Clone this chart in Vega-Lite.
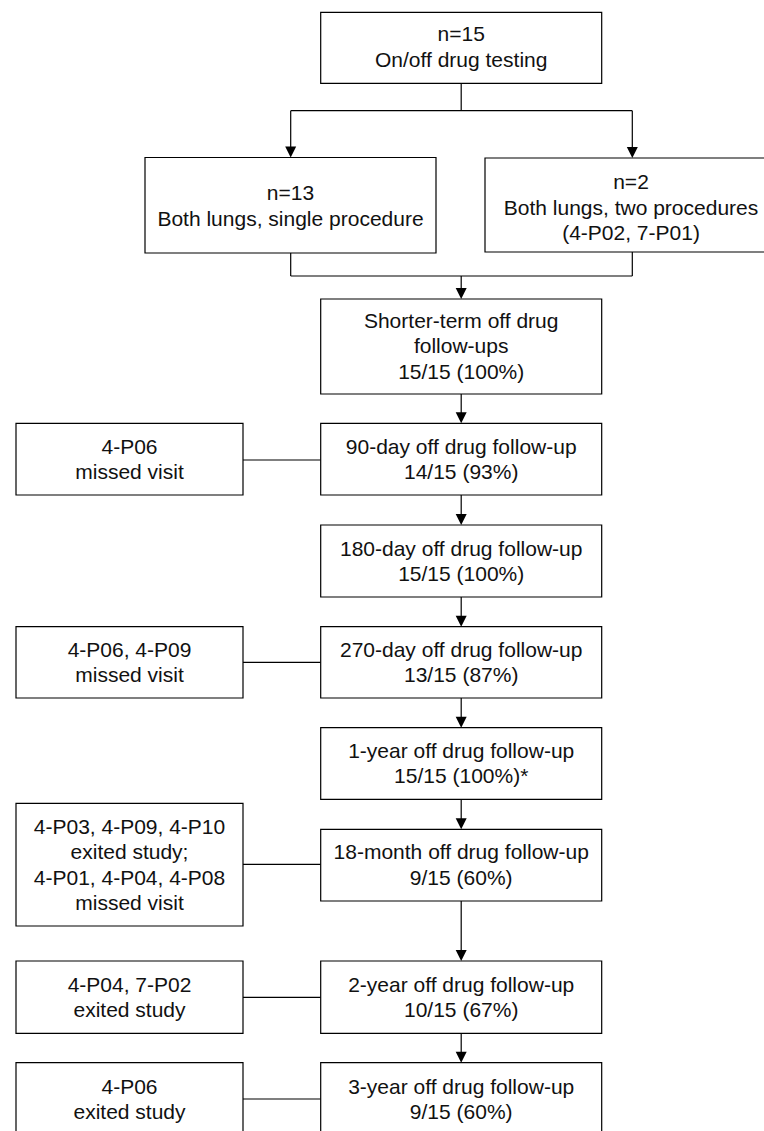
{
  "$schema": "https://vega.github.io/schema/vega-lite/v6.json",
  "width": 764,
  "height": 1131,
  "autosize": {"type": "fit", "contains": "padding"},
  "padding": 0,
  "background": "white",
  "config": {"view": {"stroke": null}},
  "datasets": {
    "boxes": [
      {"id": "top", "x1": 320.7, "x2": 601.7, "y1": 12.3, "y2": 83.3, "cx": 461.2, "ty": 35.3, "label": "n=15\nOn/off drug testing"},
      {"id": "single", "x1": 145, "x2": 436, "y1": 157.5, "y2": 253, "cx": 290.5, "ty": 194.3, "label": "n=13\nBoth lungs, single procedure"},
      {"id": "two", "x1": 485, "x2": 779, "y1": 158, "y2": 252, "cx": 631, "ty": 183, "label": "n=2\nBoth lungs, two procedures\n(4-P02, 7-P01)"},
      {"id": "short", "x1": 320.7, "x2": 601.7, "y1": 299, "y2": 394, "cx": 461.2, "ty": 321.5, "label": "Shorter-term off drug\nfollow-ups\n15/15 (100%)"},
      {"id": "d90", "x1": 320.7, "x2": 601.7, "y1": 423.3, "y2": 495, "cx": 461.2, "ty": 447.8, "label": "90-day off drug follow-up\n14/15 (93%)"},
      {"id": "l90", "x1": 16, "x2": 243, "y1": 423.3, "y2": 495, "cx": 129.5, "ty": 447.8, "label": "4-P06\nmissed visit"},
      {"id": "d180", "x1": 320.7, "x2": 601.7, "y1": 525, "y2": 597, "cx": 461.2, "ty": 549.8, "label": "180-day off drug follow-up\n15/15 (100%)"},
      {"id": "d270", "x1": 320.7, "x2": 601.7, "y1": 626.7, "y2": 698, "cx": 461.2, "ty": 650.8, "label": "270-day off drug follow-up\n13/15 (87%)"},
      {"id": "l270", "x1": 16, "x2": 243, "y1": 626.7, "y2": 698, "cx": 129.5, "ty": 650.8, "label": "4-P06, 4-P09\nmissed visit"},
      {"id": "y1", "x1": 320.7, "x2": 601.7, "y1": 727.7, "y2": 799.3, "cx": 461.2, "ty": 751.8, "label": "1-year off drug follow-up\n15/15 (100%)*"},
      {"id": "m18", "x1": 320.7, "x2": 601.7, "y1": 829.3, "y2": 901, "cx": 461.2, "ty": 853.3, "label": "18-month off drug follow-up\n9/15 (60%)"},
      {"id": "l18", "x1": 16, "x2": 243, "y1": 803.3, "y2": 926, "cx": 129.5, "ty": 827.8, "label": "4-P03, 4-P09, 4-P10\nexited study;\n4-P01, 4-P04, 4-P08\nmissed visit"},
      {"id": "y2", "x1": 320.7, "x2": 601.7, "y1": 961, "y2": 1033.3, "cx": 461.2, "ty": 985.8, "label": "2-year off drug follow-up\n10/15 (67%)"},
      {"id": "l2y", "x1": 16, "x2": 243, "y1": 961, "y2": 1033.3, "cx": 129.5, "ty": 985.8, "label": "4-P04, 7-P02\nexited study"},
      {"id": "y3", "x1": 320.7, "x2": 601.7, "y1": 1062.7, "y2": 1135, "cx": 461.2, "ty": 1087.5, "label": "3-year off drug follow-up\n9/15 (60%)"},
      {"id": "l3y", "x1": 16, "x2": 243, "y1": 1062.7, "y2": 1135, "cx": 129.5, "ty": 1087.5, "label": "4-P06\nexited study"}
    ],
    "lines": [
      {"xa": 461.2, "ya": 83.3, "xb": 461.2, "yb": 110.7},
      {"xa": 290.7, "ya": 110.7, "xb": 632.3, "yb": 110.7},
      {"xa": 290.7, "ya": 110.7, "xb": 290.7, "yb": 150},
      {"xa": 632.3, "ya": 110.7, "xb": 632.3, "yb": 150},
      {"xa": 290.7, "ya": 253, "xb": 290.7, "yb": 276},
      {"xa": 632.3, "ya": 252, "xb": 632.3, "yb": 276},
      {"xa": 290.7, "ya": 276, "xb": 632.3, "yb": 276},
      {"xa": 461.2, "ya": 276, "xb": 461.2, "yb": 292},
      {"xa": 461.2, "ya": 394, "xb": 461.2, "yb": 416},
      {"xa": 243, "ya": 460, "xb": 320.7, "yb": 460},
      {"xa": 461.2, "ya": 495, "xb": 461.2, "yb": 518},
      {"xa": 461.2, "ya": 597, "xb": 461.2, "yb": 620},
      {"xa": 243, "ya": 662.3, "xb": 320.7, "yb": 662.3},
      {"xa": 461.2, "ya": 698, "xb": 461.2, "yb": 720},
      {"xa": 461.2, "ya": 799.3, "xb": 461.2, "yb": 822},
      {"xa": 243, "ya": 864.3, "xb": 320.7, "yb": 864.3},
      {"xa": 461.2, "ya": 901, "xb": 461.2, "yb": 954},
      {"xa": 243, "ya": 997.3, "xb": 320.7, "yb": 997.3},
      {"xa": 461.2, "ya": 1033.3, "xb": 461.2, "yb": 1056},
      {"xa": 243, "ya": 1099, "xb": 320.7, "yb": 1099}
    ],
    "arrows": [
      {"x": 290.7, "y": 157.5},
      {"x": 632.3, "y": 158},
      {"x": 461.2, "y": 299},
      {"x": 461.2, "y": 423.3},
      {"x": 461.2, "y": 525},
      {"x": 461.2, "y": 626.7},
      {"x": 461.2, "y": 727.7},
      {"x": 461.2, "y": 829.3},
      {"x": 461.2, "y": 961},
      {"x": 461.2, "y": 1062.7}
    ]
  },
  "layer": [
    {
      "data": {"name": "lines"},
      "mark": {"type": "rule", "color": "#000000", "strokeWidth": 1.2},
      "encoding": {
        "x": {"field": "xa", "type": "quantitative", "axis": null, "scale": {"domain": [0, 764], "nice": false, "zero": false}},
        "x2": {"field": "xb"},
        "y": {"field": "ya", "type": "quantitative", "axis": null, "scale": {"domain": [0, 1131], "nice": false, "zero": false, "reverse": true}},
        "y2": {"field": "yb"}
      }
    },
    {
      "data": {"name": "boxes"},
      "mark": {"type": "rect", "fill": "white", "stroke": "#000000", "strokeWidth": 1.2, "clip": true},
      "encoding": {
        "x": {"field": "x1", "type": "quantitative", "axis": null, "scale": {"domain": [0, 764], "nice": false, "zero": false}},
        "x2": {"field": "x2"},
        "y": {"field": "y1", "type": "quantitative", "axis": null, "scale": {"domain": [0, 1131], "nice": false, "zero": false, "reverse": true}},
        "y2": {"field": "y2"}
      }
    },
    {
      "data": {"name": "arrows"},
      "mark": {"type": "point", "shape": "M-1,-2L1,-2L0,0Z", "filled": true, "color": "#000000", "opacity": 1, "size": 121, "strokeWidth": 0},
      "encoding": {
        "x": {"field": "x", "type": "quantitative", "axis": null, "scale": {"domain": [0, 764], "nice": false, "zero": false}},
        "y": {"field": "y", "type": "quantitative", "axis": null, "scale": {"domain": [0, 1131], "nice": false, "zero": false, "reverse": true}}
      }
    },
    {
      "data": {"name": "boxes"},
      "mark": {"type": "text", "font": "Liberation Sans", "fontSize": 21, "color": "#111111", "align": "center", "baseline": "middle", "lineBreak": "\n", "lineHeight": 25.5},
      "encoding": {
        "x": {"field": "cx", "type": "quantitative", "axis": null, "scale": {"domain": [0, 764], "nice": false, "zero": false}},
        "y": {"field": "ty", "type": "quantitative", "axis": null, "scale": {"domain": [0, 1131], "nice": false, "zero": false, "reverse": true}},
        "text": {"field": "label", "type": "nominal"}
      }
    }
  ]
}
